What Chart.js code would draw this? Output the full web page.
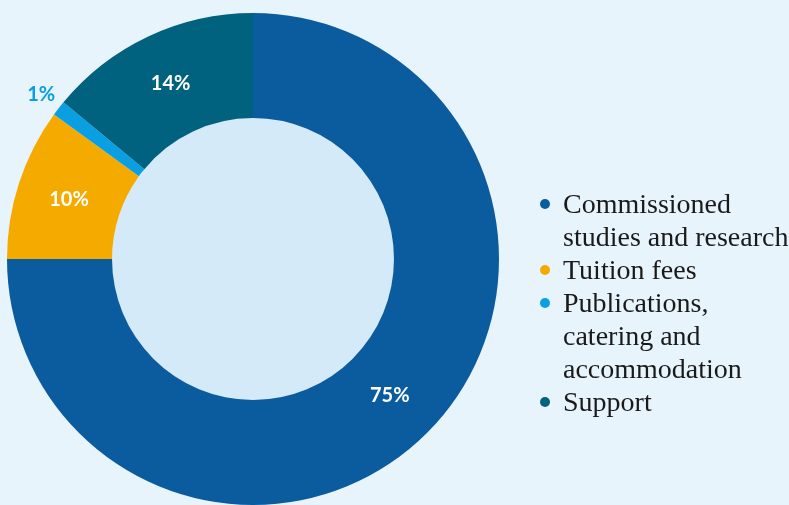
<!DOCTYPE html>
<html>
<head>
<meta charset="utf-8">
<script src="https://cdn.jsdelivr.net/npm/chart.js@4/dist/chart.umd.min.js"></script>
<style>
  html, body { margin: 0; padding: 0; background: #e8f4fc; width: 789px; height: 505px; overflow: hidden; }
  #wrap { position: absolute; left: 0; top: 0; width: 789px; height: 505px; }
  #preload { position: absolute; left: -9999px; top: 0; font-family: 'Liberation Serif'; font-size: 28px; }
</style>
</head>
<body>
<div id="preload">Serif preload</div>
<div id="wrap"><canvas id="c"></canvas></div>
<script>
const categories = [["Commissioned", "studies and research"], ["Tuition fees"], ["Publications,", "catering and", "accommodation"], ["Support"]];
const values = [75, 10, 1, 14];
const labels = ["75%", "10%", "1%", "14%"];
const colors = ["#0b5c9e", "#f5aa00", "#0a9fe2", "#00627e"];
const labelColors = ["#ffffff", "#ffffff", "#0a9fe2", "#ffffff"];
const outsideLabel = [false, false, true, false];

const innerFill = {
  id: 'innerFill',
  beforeDatasetsDraw(chart) {
    const arc = chart.getDatasetMeta(0).data[0];
    if (!arc) return;
    const ctx = chart.ctx;
    ctx.save();
    ctx.beginPath();
    ctx.arc(arc.x, arc.y, arc.innerRadius, 0, Math.PI * 2);
    ctx.fillStyle = '#d4eaf9';
    ctx.fill();
    ctx.restore();
  }
};

const valueLabels = {
  id: 'valueLabels',
  afterDatasetsDraw(chart) {
    const ctx = chart.ctx;
    const meta = chart.getDatasetMeta(0);
    ctx.save();
    ctx.font = 'bold 20px Lato';
    ctx.textAlign = 'center';
    ctx.textBaseline = 'middle';
    meta.data.forEach((arc, i) => {
      let x, y;
      if (outsideLabel[i]) {
        const mid = (arc.startAngle + arc.endAngle) / 2;
        const r = arc.outerRadius + 22;
        x = arc.x + Math.cos(mid) * r;
        y = arc.y + Math.sin(mid) * r;
      } else {
        const p = arc.getCenterPoint();
        x = p.x; y = p.y;
      }
      ctx.fillStyle = labelColors[i];
      ctx.fillText(labels[i], x, y);
    });
    ctx.restore();
  }
};

const serifLegend = {
  id: 'serifLegend',
  afterDraw(chart) {
    const ctx = chart.ctx;
    const x0 = chart.chartArea.right + 46;
    let baseline = 213;
    const lineH = 33;
    ctx.save();
    ctx.font = '28px "Liberation Serif"';
    ctx.textAlign = 'left';
    ctx.textBaseline = 'alphabetic';
    categories.forEach((lines, i) => {
      ctx.fillStyle = colors[i];
      ctx.beginPath();
      ctx.arc(x0, baseline - 9, 5, 0, Math.PI * 2);
      ctx.fill();
      ctx.fillStyle = '#1a1a1a';
      lines.forEach(t => {
        ctx.fillText(t, x0 + 18, baseline);
        baseline += lineH;
      });
    });
    ctx.restore();
  }
};

function build() {
  new Chart(document.getElementById('c'), {
    type: 'doughnut',
    data: {
      labels: categories.map(l => l.join(' ')),
      datasets: [{
        data: values,
        backgroundColor: colors,
        borderWidth: 0,
        hoverOffset: 0
      }]
    },
    options: {
      responsive: true,
      maintainAspectRatio: false,
      animation: false,
      cutout: '57.3%',
      layout: { padding: { left: 7, top: 13, right: 290, bottom: 0 } },
      plugins: { legend: { display: false }, tooltip: { enabled: false } }
    },
    plugins: [innerFill, valueLabels, serifLegend]
  });
}

Promise.all([
  document.fonts.load('28px "Liberation Serif"'),
  document.fonts.load('bold 20px Lato')
]).then(build, build);
</script>
</body>
</html>
